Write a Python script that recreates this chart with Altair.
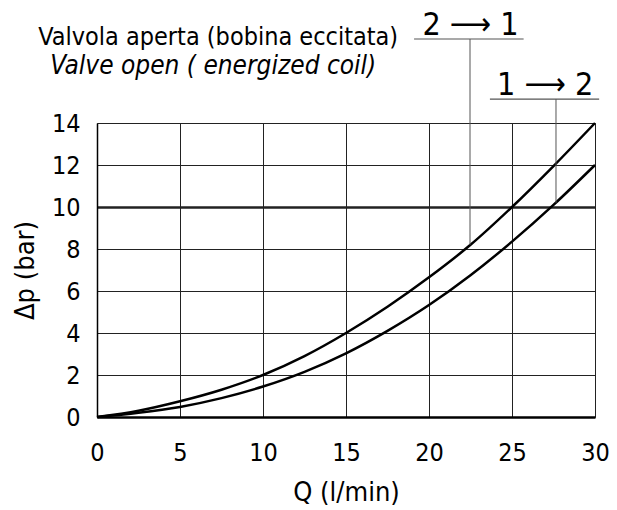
import altair as alt
import pandas as pd

# Curve 2 -> 1 (upper)
q_upper = [0, 2.5, 5, 7.5, 10, 12.5, 15, 17.5, 20, 22.5, 25, 27.5, 30]
dp_upper = [0, 0.3, 0.75, 1.3, 2.0, 2.9, 4.0, 5.25, 6.65, 8.2, 10.0, 11.95, 14.0]
# Curve 1 -> 2 (lower)
q_lower = [0, 2.5, 5, 7.5, 10, 12.5, 15, 17.5, 20, 22.5, 25, 27.5, 30]
dp_lower = [0, 0.2, 0.48, 0.9, 1.45, 2.15, 3.03, 4.1, 5.33, 6.75, 8.35, 10.1, 12.0]

x_ticks = [0, 5, 10, 15, 20, 25, 30]
y_ticks = [0, 2, 4, 6, 8, 10, 12, 14]

# Annotations (data coordinates)
ann_labels = ["2 \u27f6 1", "1 \u27f6 2"]
ann_leader_q = [22.47, 27.65]
ann_curve_dp = [8.2, 10.2]
ann_line_dp = [18.0, 15.14]
ann_line_q0 = [19.1, 23.67]
ann_line_q1 = [25.7, 30.25]
ann_text_q = [22.5, 27.0]
ann_text_dp = [18.2, 15.35]

# Heading lines (data coordinates of their centres / baselines)
head_texts = ["Valvola aperta (bobina eccitata)", "Valve open ( energized coil)"]
head_q = [7.3, 7.0]
head_dp = [17.72, 16.33]

NARROW = "'DejaVu Sans Condensed', 'Roboto Condensed', Roboto, sans-serif"

curves = pd.concat([
    pd.DataFrame({"Q": q_upper, "dp": dp_upper, "s": "2-1"}),
    pd.DataFrame({"Q": q_lower, "dp": dp_lower, "s": "1-2"}),
])
ann = pd.DataFrame({
    "label": ann_labels, "lq": ann_leader_q, "cdp": ann_curve_dp, "ldp": ann_line_dp,
    "q0": ann_line_q0, "q1": ann_line_q1, "tq": ann_text_q, "tdp": ann_text_dp,
})
head_it = pd.DataFrame({"t": head_texts[1:], "q": head_q[1:], "dp": head_dp[1:]})
head_no = pd.DataFrame({"t": head_texts[:1], "q": head_q[:1], "dp": head_dp[:1]})

xs = alt.Scale(domain=[0, 30], nice=False)
ys = alt.Scale(domain=[0, 14], nice=False)

lines = alt.Chart(curves).mark_line(color="black", strokeWidth=2.5, interpolate="monotone").encode(
    x=alt.X("Q:Q", scale=xs, axis=alt.Axis(
        values=x_ticks, title="Q (l/min)", ticks=False, labelFontSize=25, labelFont=NARROW,
        labelPadding=23, labelFlush=False, titleFontSize=27, titleFont=NARROW,
        titleFontWeight="normal", titlePadding=14, domainColor="black", domainWidth=2.5,
        gridColor="#222", gridWidth=1, labelColor="black", titleColor="black")),
    y=alt.Y("dp:Q", scale=ys, axis=alt.Axis(
        values=y_ticks, title="\u0394p (bar)", ticks=False, labelFontSize=25, labelFont=NARROW,
        labelPadding=17, labelFlush=False, titleFontSize=27, titleFont=NARROW,
        titleFontWeight="normal", titlePadding=12, domainColor="black", domainWidth=1.5,
        gridColor="#222",
        gridWidth={"condition": {"test": "datum.value === 10", "value": 2.5}, "value": 1},
        labelColor="black", titleColor="black")),
    detail="s:N",
)

leaders = alt.Chart(ann).mark_rule(color="#555", strokeWidth=1).encode(
    x="lq:Q", y="cdp:Q", y2="ldp:Q")
underlines = alt.Chart(ann).mark_rule(color="#555", strokeWidth=1.2).encode(
    x="q0:Q", x2="q1:Q", y="ldp:Q")
labels = alt.Chart(ann).mark_text(fontSize=32, font=NARROW, baseline="alphabetic",
                                  align="center", color="black").encode(
    x="tq:Q", y="tdp:Q", text="label:N")
heading1 = alt.Chart(head_no).mark_text(fontSize=25, font=NARROW, baseline="alphabetic",
                                        align="center", color="black").encode(
    x="q:Q", y="dp:Q", text="t:N")
heading2 = alt.Chart(head_it).mark_text(fontSize=26, font=NARROW, baseline="alphabetic",
                                        align="center", color="black", fontStyle="italic").encode(
    x="q:Q", y="dp:Q", text="t:N")

chart = alt.layer(lines, leaders, underlines, labels, heading1, heading2).properties(
    width=498, height=294,
    autosize=alt.AutoSizeParams(type="none"),
    padding={"left": 89, "top": 115, "right": 14, "bottom": 90},
).configure_view(stroke="black", strokeWidth=1.5).configure(background="white")

chart.save("out.html", embed_options={"renderer": "svg", "actions": False})
